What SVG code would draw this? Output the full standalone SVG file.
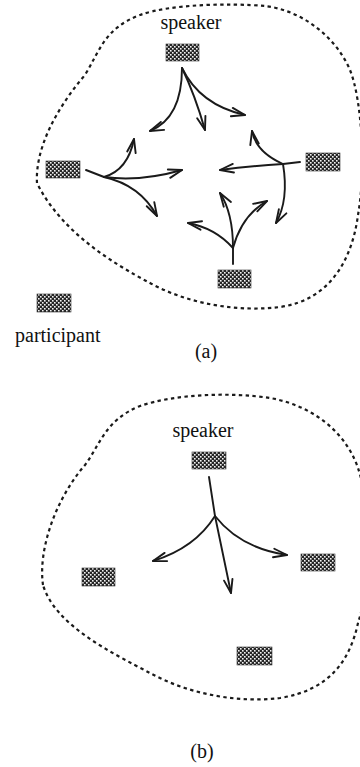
<svg xmlns="http://www.w3.org/2000/svg" width="360" height="767" viewBox="0 0 360 767">
  <defs>
    <!-- checkered fill used by every participant block -->
    <pattern id="checks" width="4" height="4" patternUnits="userSpaceOnUse">
      <rect width="4" height="4" fill="#262626"/>
      <rect x="0" y="0" width="1.6" height="1.6" fill="#f4f4f4"/>
      <rect x="2" y="2" width="1.6" height="1.6" fill="#f4f4f4"/>
    </pattern>
    <!-- open V arrowhead -->
    <marker id="vhead" viewBox="-15 -7 16 14" refX="0" refY="0" markerWidth="16" markerHeight="14" markerUnits="userSpaceOnUse" orient="auto" overflow="visible">
      <path d="M-13.5,-4.3 L0,0 L-13.5,4.3" fill="none" stroke="#1a1a1a" stroke-width="1.9" stroke-linecap="round" stroke-linejoin="round"/>
    </marker>
  </defs>
  <style>
    .lbl { font-family: "Liberation Serif", "Times New Roman", serif; font-size: 20px; fill: #111; }
    .cap { font-family: "Liberation Serif", "Times New Roman", serif; font-size: 20px; fill: #111; text-anchor: middle; }
    .blk { fill: url(#checks); stroke: #333; stroke-width: 0.6; }
    .bound { fill: none; stroke: #1a1a1a; stroke-width: 2.2; stroke-dasharray: 3.4 3.4; }
    .arr { fill: none; stroke: #1a1a1a; stroke-width: 1.9; stroke-linecap: round; marker-end: url(#vhead); }
    .stem { fill: none; stroke: #1a1a1a; stroke-width: 1.9; stroke-linecap: round; }
  </style>
  <rect width="360" height="767" fill="#ffffff"/>

  <!-- ===== (a) everyone can talk to everyone ===== -->
  <g id="group-a-boundary">
    <path class="bound" d="M37,183 C35,150 55,110 85,75 C100,50 105,28 140,15 C170,4 230,3 265,6 C300,10 335,35 350,70 C362,100 366,170 358,215 C352,260 330,300 280,307 C240,312 190,305 150,283 C110,262 60,230 37,183 Z"/>
  </g>
  <g id="a-speaker">
    <text class="cap" x="191" y="29">speaker</text>
    <rect class="blk" x="166" y="44" width="33" height="17"/>
  </g>
  <g id="a-left">
    <rect class="blk" x="46" y="161" width="34" height="17"/>
  </g>
  <g id="a-right">
    <rect class="blk" x="306" y="153" width="34" height="18"/>
  </g>
  <g id="a-bottom">
    <rect class="blk" x="218" y="270" width="33" height="18"/>
  </g>
  <g id="a-participant">
    <rect class="blk" x="37" y="294" width="34" height="18"/>
    <text class="lbl" x="15" y="342">participant</text>
  </g>
  <g id="a-connectors">
    <!-- from speaker -->
    <path class="arr" d="M182,68 C182,100 172,122 150,131"/>
    <path class="arr" d="M182,68 Q195,95 205,130"/>
    <path class="arr" d="M182,68 Q200,105 245,115"/>
    <!-- from left participant -->
    <path class="stem" d="M86,170 L104,177"/>
    <path class="arr" d="M104,177 Q128,170 134,139"/>
    <path class="arr" d="M104,177 Q140,182 182,170"/>
    <path class="arr" d="M104,177 Q140,185 157,216"/>
    <!-- from right participant -->
    <path class="stem" d="M300,162 L283,164"/>
    <path class="arr" d="M283,164 Q250,166 220,170"/>
    <path class="arr" d="M283,164 Q256,152 252,131"/>
    <path class="arr" d="M283,164 Q289,200 276,223"/>
    <!-- from bottom participant -->
    <path class="stem" d="M233,264 L233,248"/>
    <path class="arr" d="M233,248 Q215,228 188,223"/>
    <path class="arr" d="M233,248 Q233,213 220,193"/>
    <path class="arr" d="M233,248 Q242,215 267,201"/>
  </g>
  <text class="cap" x="206" y="358">(a)</text>

  <!-- ===== (b) one speaker addresses the group ===== -->
  <g id="group-b-boundary">
    <path class="bound" d="M43,585 C38,550 55,500 85,465 C100,445 105,420 140,406 C175,394 230,392 270,398 C310,405 345,430 358,468 C372,510 372,580 358,623 C350,660 330,690 280,698 C240,703 190,695 150,673 C110,652 55,625 43,585 Z"/>
  </g>
  <g id="b-speaker">
    <text class="cap" x="203" y="437">speaker</text>
    <rect class="blk" x="192" y="452" width="34" height="17"/>
  </g>
  <g id="b-left">
    <rect class="blk" x="82" y="568" width="33" height="18"/>
  </g>
  <g id="b-right">
    <rect class="blk" x="301" y="554" width="34" height="17"/>
  </g>
  <g id="b-bottom">
    <rect class="blk" x="237" y="647" width="35" height="18"/>
  </g>
  <g id="b-connectors">
    <path class="stem" d="M209,477 L215,516"/>
    <path class="arr" d="M215,516 L231,593"/>
    <path class="arr" d="M215,516 Q195,548 153,561"/>
    <path class="arr" d="M215,516 Q240,548 287,555"/>
  </g>
  <text class="cap" x="202" y="758">(b)</text>
</svg>
